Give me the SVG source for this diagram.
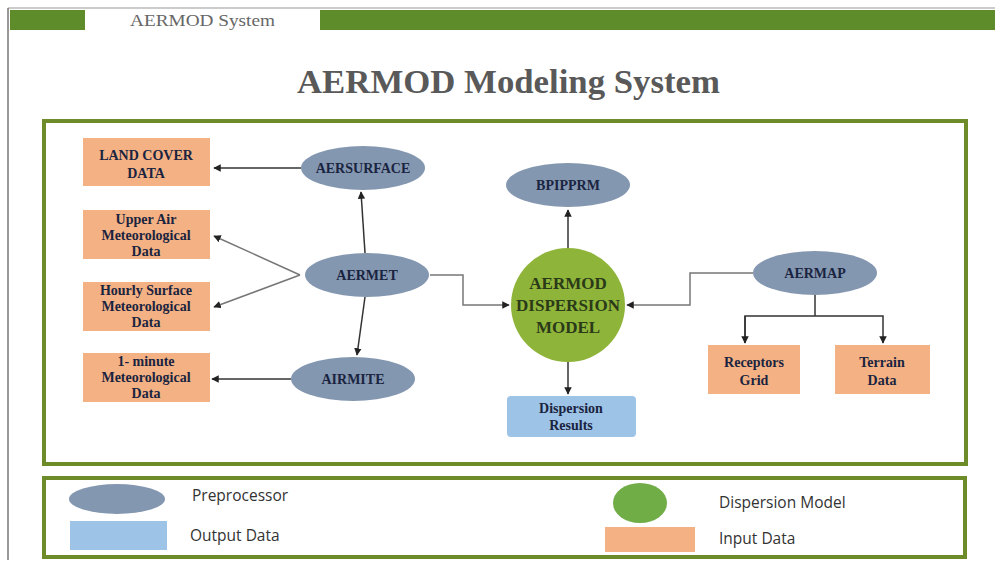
<svg xmlns="http://www.w3.org/2000/svg" width="995" height="564" viewBox="0 0 995 564">
<style>
.frame{fill:none;stroke:#6e8b2a;stroke-width:4}
.pre{fill:#8497b0}
.inp{fill:#f4b183}
.outd{fill:#9dc3e6}
.nt{font-family:"Liberation Serif",serif;font-weight:bold;font-size:14px;fill:#1a2440;text-anchor:middle}
.mt{font-family:"Liberation Serif",serif;font-weight:bold;font-size:17px;fill:#2a3a18;text-anchor:middle}
.lg{font-family:"Open Sans","Noto Sans",sans-serif;font-size:15.5px;fill:#333}
.c{fill:none;stroke:#333;stroke-width:1.5}
.cg{fill:none;stroke:#777;stroke-width:1.5}
</style>
<defs>
<marker id="ah" viewBox="0 0 10 10" refX="9" refY="5" markerWidth="5" markerHeight="5" orient="auto">
<path d="M0,0 L10,5 L0,10 z" fill="#222"/>
</marker>
</defs>
<rect x="0" y="0" width="995" height="564" fill="#fff"/>
<line x1="8" y1="8" x2="995" y2="8" stroke="#999" stroke-width="1"/>
<line x1="8" y1="8" x2="8" y2="560" stroke="#777" stroke-width="1.5"/>
<rect x="10" y="10" width="985" height="20" fill="#5e8c2b"/>
<rect x="85" y="10" width="235" height="21" fill="#fff"/>
<text x="130" y="26" font-family="Liberation Serif,serif" font-size="17" fill="#666" textLength="145" lengthAdjust="spacingAndGlyphs">AERMOD System</text>
<text x="297" y="93" font-family="Liberation Serif,serif" font-weight="bold" font-size="34" fill="#595959" textLength="423" lengthAdjust="spacingAndGlyphs">AERMOD Modeling System</text>
<rect class="frame" x="44" y="121" width="922" height="343"/>

<g id="connectors">
<line class="c" x1="301" y1="168" x2="214" y2="168" marker-end="url(#ah)"/>
<line class="c" x1="365" y1="253" x2="361" y2="192" marker-end="url(#ah)"/>
<polyline class="cg" points="300,275 214,236" marker-end="url(#ah)"/>
<polyline class="cg" points="300,275 214,307" marker-end="url(#ah)"/>
<line class="c" x1="365" y1="297" x2="357" y2="355" marker-end="url(#ah)"/>
<line class="c" x1="291" y1="379" x2="212" y2="379" marker-end="url(#ah)"/>
<polyline class="cg" points="430,275 463,275 463,305 509,305" marker-end="url(#ah)"/>
<line class="c" x1="568" y1="248" x2="568" y2="210" marker-end="url(#ah)"/>
<line class="c" x1="568" y1="362" x2="568" y2="394" marker-end="url(#ah)"/>
<polyline class="cg" points="753,273 690,273 690,305 627,305" marker-end="url(#ah)"/>
<line class="c" x1="815" y1="295" x2="815" y2="316"/>
<polyline class="c" points="745,343 745,316 883,316 883,343" marker-end="url(#ah)"/>
<line class="c" x1="745" y1="316" x2="745" y2="343" marker-end="url(#ah)"/>
</g>

<g id="landcover"><rect class="inp" x="83" y="138" width="127" height="48"/><text class="nt" x="146" y="160">LAND COVER</text><text class="nt" x="146" y="178">DATA</text></g>
<g id="upperair"><rect class="inp" x="83" y="210" width="127" height="49"/><text class="nt" x="146" y="224">Upper Air</text><text class="nt" x="146" y="240">Meteorological</text><text class="nt" x="146" y="256">Data</text></g>
<g id="hourly"><rect class="inp" x="83" y="282" width="127" height="49"/><text class="nt" x="146" y="295">Hourly Surface</text><text class="nt" x="146" y="311">Meteorological</text><text class="nt" x="146" y="327">Data</text></g>
<g id="oneminute"><rect class="inp" x="83" y="353" width="127" height="49"/><text class="nt" x="146" y="366">1- minute</text><text class="nt" x="146" y="382">Meteorological</text><text class="nt" x="146" y="398">Data</text></g>

<g id="aersurface"><ellipse class="pre" cx="363" cy="168" rx="62" ry="22"/><text class="nt" x="363" y="173">AERSURFACE</text></g>
<g id="aermet"><ellipse class="pre" cx="367" cy="275" rx="62" ry="22"/><text class="nt" x="367" y="280">AERMET</text></g>
<g id="airmite"><ellipse class="pre" cx="353" cy="379" rx="62" ry="22"/><text class="nt" x="353" y="384">AIRMITE</text></g>
<g id="bpipprm"><ellipse class="pre" cx="568" cy="185" rx="62" ry="22"/><text class="nt" x="568" y="190">BPIPPRM</text></g>
<g id="aermod"><circle cx="568" cy="305" r="57" fill="#8fb43a"/><text class="mt" x="568" y="289">AERMOD</text><text class="mt" x="568" y="311">DISPERSION</text><text class="mt" x="568" y="333">MODEL</text></g>
<g id="results"><rect class="outd" x="507" y="396" width="129" height="41" rx="4"/><text class="nt" x="571" y="413">Dispersion</text><text class="nt" x="571" y="430">Results</text></g>
<g id="aermap"><ellipse class="pre" cx="815" cy="273" rx="62" ry="22"/><text class="nt" x="815" y="278">AERMAP</text></g>
<g id="receptors"><rect class="inp" x="708" y="345" width="92" height="49"/><text class="nt" x="754" y="367">Receptors</text><text class="nt" x="754" y="385">Grid</text></g>
<g id="terrain"><rect class="inp" x="835" y="345" width="95" height="49"/><text class="nt" x="882" y="367">Terrain</text><text class="nt" x="882" y="385">Data</text></g>

<g id="legend">
<rect class="frame" x="44" y="478" width="921" height="79"/>
<ellipse class="pre" cx="117" cy="499" rx="48" ry="15"/>
<text class="lg" x="192" y="501">Preprocessor</text>
<rect class="outd" x="70" y="521" width="97" height="29"/>
<text class="lg" x="190" y="541">Output Data</text>
<ellipse cx="640" cy="503" rx="27" ry="20" fill="#70ad47"/>
<text class="lg" x="719" y="508">Dispersion Model</text>
<rect class="inp" x="605" y="527" width="90" height="25"/>
<text class="lg" x="719" y="544">Input Data</text>
</g>
</svg>
